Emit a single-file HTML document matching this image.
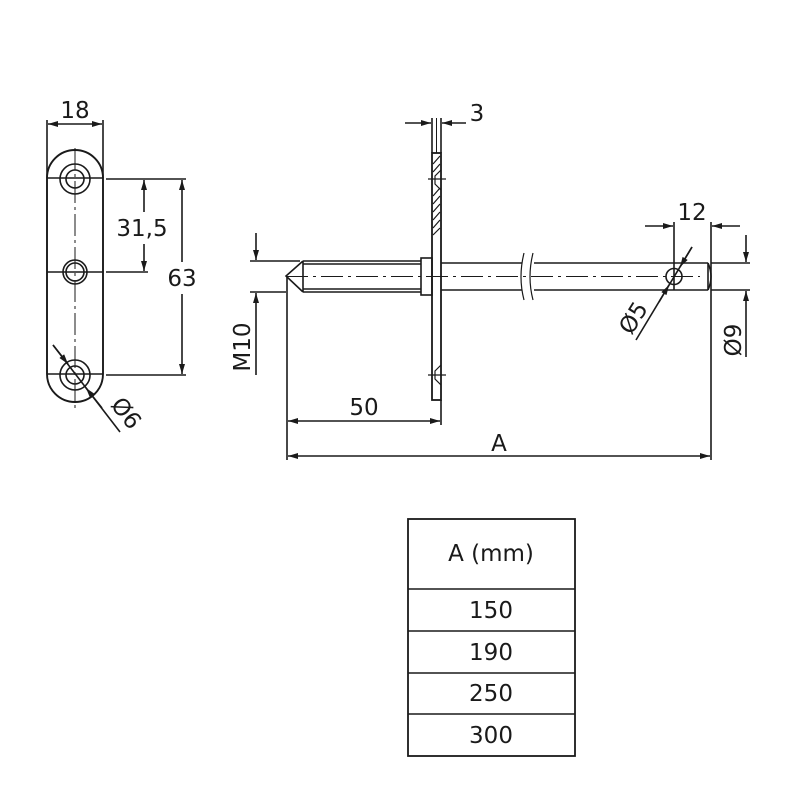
<!DOCTYPE html>
<html><head><meta charset="utf-8"><style>
html,body{margin:0;padding:0;background:#fff;}
svg{display:block;}
text{font-family:"DejaVu Sans","Liberation Sans",sans-serif;fill:#1a1a1a;}
</style></head><body>
<svg width="800" height="800" viewBox="0 0 800 800" xmlns="http://www.w3.org/2000/svg">
<defs>
<marker id="ar" viewBox="0 0 10 6" refX="10" refY="3" markerWidth="11" markerHeight="6" orient="auto-start-reverse" markerUnits="userSpaceOnUse">
<path d="M0,0 L10,3 L0,6 Z" fill="#1a1a1a"/></marker>
</defs>
<g stroke="#1a1a1a" stroke-width="1.6" fill="none">
<path d="M47,178 A28,28 0 0 1 103,178 L103,374 A28,28 0 0 1 47,374 Z" stroke-width="1.9"/>
<line x1="47" y1="178" x2="103" y2="178"/><line x1="47" y1="272" x2="103" y2="272"/><line x1="47" y1="374" x2="103" y2="374"/>
<circle cx="75" cy="179" r="15"/><circle cx="75" cy="179" r="9"/>
<circle cx="75" cy="272" r="12"/><circle cx="75" cy="272" r="9"/>
<circle cx="75" cy="375" r="15"/><circle cx="75" cy="375" r="9"/>
<line x1="75" y1="148" x2="75" y2="408" stroke-dasharray="22,4,3,4" stroke-width="1"/>
<line x1="47" y1="120" x2="47" y2="178"/><line x1="103" y1="120" x2="103" y2="178"/>
<line x1="48" y1="124" x2="102" y2="124" marker-start="url(#ar)" marker-end="url(#ar)"/>
<line x1="106" y1="179" x2="186" y2="179"/><line x1="106" y1="272" x2="148" y2="272"/><line x1="106" y1="375" x2="186" y2="375"/>
<line x1="144" y1="180" x2="144" y2="212" marker-start="url(#ar)"/>
<line x1="144" y1="244" x2="144" y2="271" marker-end="url(#ar)"/>
<line x1="182" y1="180" x2="182" y2="262" marker-start="url(#ar)"/>
<line x1="182" y1="294" x2="182" y2="374" marker-end="url(#ar)"/>
<line x1="53" y1="345" x2="120" y2="432"/>
<line x1="53" y1="345" x2="68" y2="364" marker-end="url(#ar)"/>
<line x1="102" y1="408" x2="86" y2="388" marker-end="url(#ar)"/>

<rect x="432" y="153" width="9" height="247" stroke-width="1.8"/>
<line x1="436.5" y1="118" x2="436.5" y2="153" stroke-width="1"/>
<line x1="432" y1="118" x2="432" y2="153"/><line x1="441" y1="118" x2="441" y2="153"/>
<line x1="441" y1="400" x2="441" y2="425"/>
<line x1="405" y1="123" x2="431" y2="123" marker-end="url(#ar)"/>
<line x1="466" y1="123" x2="442" y2="123" marker-end="url(#ar)"/>
<g stroke-width="1.2">
<line x1="433" y1="164" x2="440" y2="156"/><line x1="433" y1="172" x2="440" y2="164"/>
<line x1="433" y1="196" x2="440" y2="188"/><line x1="433" y1="204" x2="440" y2="196"/><line x1="433" y1="212" x2="440" y2="204"/><line x1="433" y1="220" x2="440" y2="212"/><line x1="433" y1="228" x2="440" y2="220"/><line x1="433" y1="235" x2="440" y2="228"/>
<line x1="428" y1="179" x2="446" y2="179"/><line x1="428" y1="375" x2="446" y2="375"/>
<path d="M441,170 L435,176 L435,184 L441,190"/><path d="M441,365 L435,371 L435,379 L441,385"/>
</g>
<path d="M303,261 L421,261 M303,292 L421,292 M303,264 L421,264 M303,289 L421,289 M303,261 L303,292 M303,261 L286,276 L303,292"/>
<rect x="421" y="258" width="11" height="37"/>
<line x1="286" y1="276.5" x2="700" y2="276.5" stroke-dasharray="22,5,3,5" stroke-width="1"/>
<line x1="441" y1="263" x2="522" y2="263"/><line x1="441" y1="290" x2="522" y2="290"/>
<line x1="534" y1="263" x2="708" y2="263"/><line x1="534" y1="290" x2="708" y2="290"/>
<path d="M524,253 Q518,277 524,300 M533,253 Q527,277 533,300" stroke-width="1.2"/>
<path d="M708,263 Q714,276.5 708,290" />
<line x1="708" y1="263" x2="708" y2="290"/>
<circle cx="674" cy="276.5" r="8"/>
<line x1="674" y1="222" x2="674" y2="290"/><line x1="711" y1="222" x2="711" y2="460"/>
<line x1="645" y1="226" x2="673" y2="226" marker-end="url(#ar)"/>
<line x1="740" y1="226" x2="712" y2="226" marker-end="url(#ar)"/>
<line x1="711" y1="263" x2="750" y2="263"/><line x1="711" y1="290" x2="750" y2="290"/>
<line x1="746" y1="235" x2="746" y2="262" marker-end="url(#ar)"/>
<line x1="746" y1="357" x2="746" y2="291" marker-end="url(#ar)"/>
<line x1="692" y1="247" x2="636" y2="340"/>
<line x1="692" y1="247" x2="680" y2="267" marker-end="url(#ar)"/>
<line x1="659" y1="302" x2="669" y2="285" marker-end="url(#ar)"/>
<line x1="250" y1="261" x2="300" y2="261"/><line x1="250" y1="292" x2="286" y2="292"/>
<line x1="256" y1="233" x2="256" y2="260" marker-end="url(#ar)"/>
<line x1="256" y1="375" x2="256" y2="293" marker-end="url(#ar)"/>
<line x1="287" y1="277" x2="287" y2="460"/>
<line x1="288" y1="421" x2="440" y2="421" marker-start="url(#ar)" marker-end="url(#ar)"/>
<line x1="288" y1="456" x2="710" y2="456" marker-start="url(#ar)" marker-end="url(#ar)"/>
<rect x="408" y="519" width="167" height="237" stroke-width="1.8"/>
<line x1="408" y1="589" x2="575" y2="589"/><line x1="408" y1="631" x2="575" y2="631"/>
<line x1="408" y1="673" x2="575" y2="673"/><line x1="408" y1="714" x2="575" y2="714"/>
</g>
<g font-size="23">
<text x="75" y="118" text-anchor="middle">18</text>
<text x="142" y="236" text-anchor="middle">31,5</text>
<text x="182" y="286" text-anchor="middle">63</text>
<text x="477" y="121" text-anchor="middle">3</text>
<text x="364" y="415" text-anchor="middle">50</text>
<text x="499" y="451" text-anchor="middle">A</text>
<text x="692" y="220" text-anchor="middle">12</text>
<text transform="translate(250,347) rotate(-90)" text-anchor="middle">M10</text>
<text transform="translate(741,340) rotate(-90)" text-anchor="middle">Ø9</text>
<text transform="translate(120,418) rotate(52)" text-anchor="middle">Ø6</text>
<text transform="translate(640,322) rotate(-58)" text-anchor="middle">Ø5</text>
<text x="491" y="561" text-anchor="middle">A (mm)</text>
<text x="491" y="618" text-anchor="middle">150</text>
<text x="491" y="660" text-anchor="middle">190</text>
<text x="491" y="701" text-anchor="middle">250</text>
<text x="491" y="743" text-anchor="middle">300</text>
</g>
</svg>
</body></html>
